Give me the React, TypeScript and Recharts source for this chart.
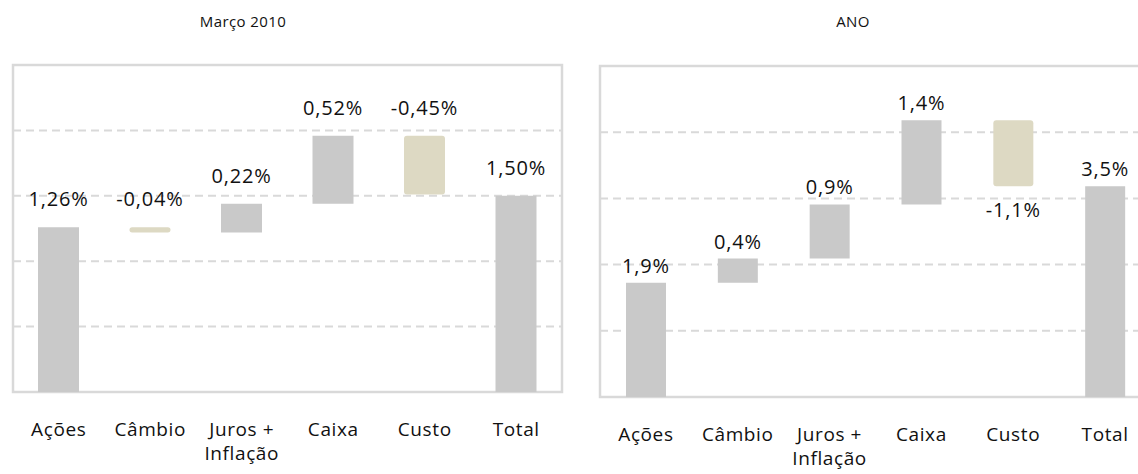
import React from 'react';
import { BarChart, Bar, XAxis, YAxis, CartesianGrid, ReferenceArea, LabelList, Cell } from 'recharts';

const CATEGORIES = ['Ações', 'Câmbio', 'Juros +\nInflação', 'Caixa', 'Custo', 'Total'];

// Março 2010: contribution of each step, then the total
const MARCO_STEPS = [1.26, -0.04, 0.22, 0.52, -0.45];
const MARCO_TOTAL = 1.5;
const MARCO_TICKS = [0, 0.5, 1, 1.5, 2, 2.5];

// ANO (year to date)
const ANO_STEPS = [1.9, 0.4, 0.9, 1.4, -1.1];
const ANO_TOTAL = 3.5;
const ANO_TICKS = [0, 1.1, 2.2, 3.3, 4.4, 5.5];

const GREY = '#c9c9c9';
const TAN = '#ddd9c3';
const LINE = '#d9d9d9';
const FONT = '"Open Sans", "Noto Sans", sans-serif';

const fmt = (v: number, d: number) => v.toFixed(d).replace('.', ',') + '%';

function buildRows(steps: number[], total: number, decimals: number) {
  let run = 0;
  const rows = steps.map((d, i) => {
    const from = run;
    run += d;
    return { name: CATEGORIES[i], range: [Math.min(from, run), Math.max(from, run)], delta: d, text: fmt(d, decimals) };
  });
  rows.push({ name: CATEGORIES[5], range: [0, total], delta: total, text: fmt(total, decimals) });
  return rows;
}

const CategoryTick = (props: any) => {
  const { x, y, payload } = props;
  const lines = String(payload.value).split('\n');
  return (
    <text x={x} y={y + 44} textAnchor="middle" fill="#111" fontFamily={FONT} fontSize={19} letterSpacing={0.6}>
      {lines.map((l, i) => (
        <tspan key={i} x={x} dy={i === 0 ? 0 : 24}>{l}</tspan>
      ))}
    </text>
  );
};

type ChartProps = {
  rows: any[];
  ticks: number[];
  width: number;
  margin: { top: number; right: number; bottom: number; left: number };
  labelGap: number;
  negBelow: boolean;
  barSize: number;
};

function Waterfall({ rows, ticks, width, margin, labelGap, negBelow, barSize }: ChartProps) {
  const max = ticks[ticks.length - 1];
  const renderLabel = (p: any) => {
    const vb = p.viewBox || {};
    const x = p.x ?? vb.x;
    const y = p.y ?? vb.y;
    const w = p.width ?? vb.width;
    const h = p.height ?? vb.height;
    const row = rows[p.index];
    if (!row) return null;
    const top = Math.min(y, y + h);
    const bottom = Math.max(y, y + h);
    const below = negBelow && row.delta < 0;
    return (
      <text x={x + w / 2} y={below ? bottom + 31 : top - labelGap} textAnchor="middle"
        fill="#111" fontFamily={FONT} fontSize={20} letterSpacing={0.8}>
        {row.text}
      </text>
    );
  };
  return (
    <BarChart width={width} height={474} data={rows} margin={margin}>
      <CartesianGrid vertical={false} stroke={LINE} strokeWidth={2} strokeDasharray="8 5" />
      <ReferenceArea y1={0} y2={max} fill="none" stroke={LINE} strokeWidth={2.5} ifOverflow="visible" />
      <XAxis dataKey="name" axisLine={false} tickLine={false} tickSize={0} tickMargin={0}
        height={60} interval={0} tick={<CategoryTick />} />
      <YAxis hide domain={[0, max]} ticks={ticks} />
      <Bar dataKey="range" barSize={barSize} isAnimationActive={false}>
        {rows.map((r, i) => (
          <Cell key={i} fill={r.delta < 0 ? TAN : GREY} radius={r.delta < 0 ? 3 : 0} />
        ))}
        <LabelList dataKey="range" content={renderLabel} />
      </Bar>
    </BarChart>
  );
}

const TITLE: React.CSSProperties = {
  position: 'absolute', top: 11, width: 200, textAlign: 'center',
  fontFamily: FONT, fontSize: 15, lineHeight: '20px', color: '#111', letterSpacing: 0.4,
};

export default function App() {
  const marcoRows = buildRows(MARCO_STEPS, MARCO_TOTAL, 2);
  const anoRows = buildRows(ANO_STEPS, ANO_TOTAL, 1);
  return (
    <div style={{ position: 'absolute', left: 0, top: 0, width: 1138, height: 474, overflow: 'hidden', background: '#fff' }}>
      <div style={{ ...TITLE, left: 243 - 100 }}>Março 2010</div>
      <div style={{ ...TITLE, left: 853 - 100 }}>ANO</div>
      <div style={{ position: 'absolute', left: 0, top: 0 }}>
        <Waterfall rows={marcoRows} ticks={MARCO_TICKS} width={570}
          margin={{ top: 65, right: 8, bottom: 22, left: 13 }}
          labelGap={21} negBelow={false} barSize={41} />
      </div>
      <div style={{ position: 'absolute', left: 587, top: 0 }}>
        <Waterfall rows={anoRows} ticks={ANO_TICKS} width={575}
          margin={{ top: 66, right: 11, bottom: 17, left: 13 }}
          labelGap={10} negBelow={true} barSize={40} />
      </div>
    </div>
  );
}
